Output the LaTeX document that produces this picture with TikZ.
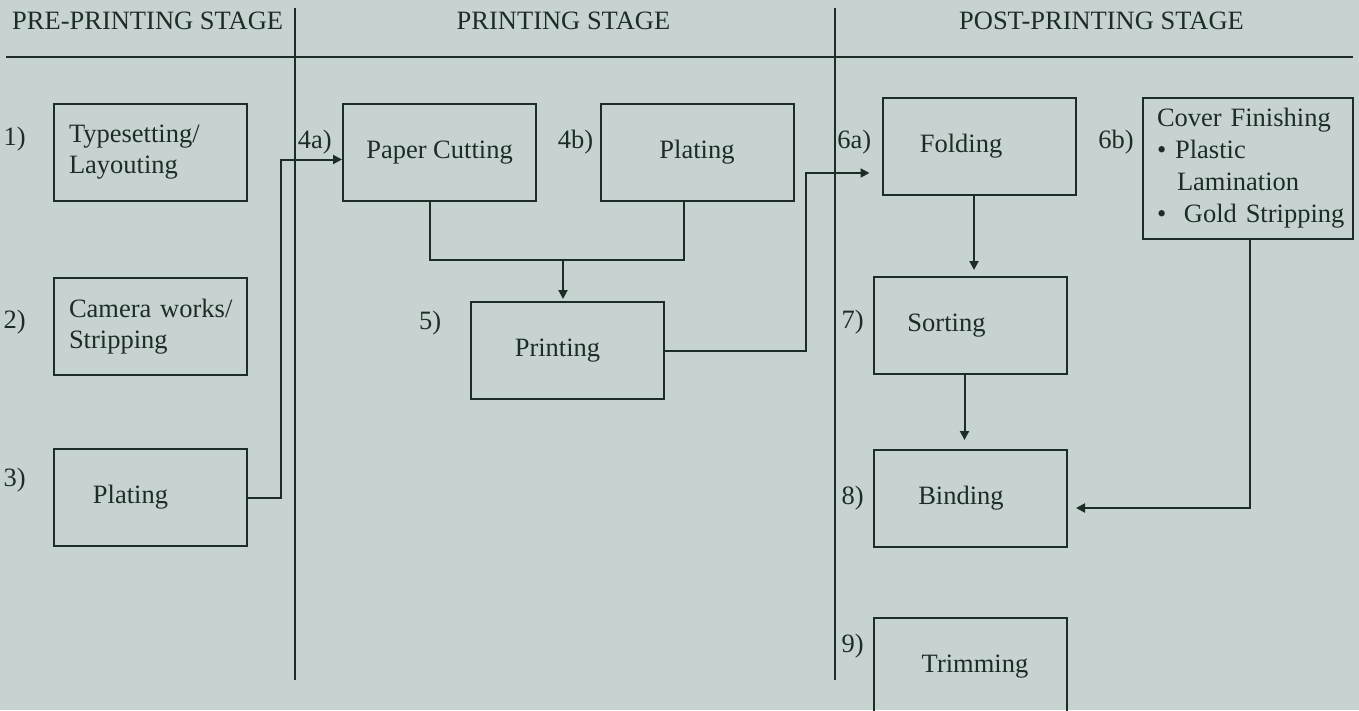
\documentclass[tikz,border=0pt]{standalone}
\usepackage{fontspec}
\setmainfont{Liberation Serif}
\usepackage{tikz}
\usetikzlibrary{positioning,arrows.meta}
\definecolor{paper}{RGB}{199,211,208}
\definecolor{ink}{RGB}{30,44,40}

\begin{document}
\begin{tikzpicture}[x=1pt, y=-1pt, >={Triangle[length=9pt,width=9pt]},
  every node/.style={text=ink, font=\fontsize{26.5}{31}\selectfont},
  stage/.style={draw=ink, line width=2pt, minimum width=193pt, minimum height=97pt, inner sep=0pt, align=center},
  leftstage/.style={stage, text width=163pt, inner xsep=15pt, align=left},
  num/.style={inner sep=0pt},
  head/.style={inner sep=0pt},
  rule/.style={draw=ink, line width=2pt},
  flow/.style={->, draw=ink, line width=2pt}]
  \clip (0,0) rectangle (1359,710);
  \fill[paper] (0,0) rectangle (1359,710);
  % stage headings and dividers
  \node (pre) [head, anchor=base west] at (12,29) {PRE-PRINTING STAGE};
  \node (prt) [head, anchor=base] at (563.5,29) {PRINTING STAGE};
  \node (post) [head, anchor=base] at (1101.5,29) {POST-PRINTING STAGE};
  \draw[rule] (6,57) -- (1353,57);
  \draw[rule] (295,8) -- (295,680);
  \draw[rule] (835,8) -- (835,680);
  % pre-printing
  \node (ts) [leftstage] at (150.5,152.5) {\mbox{Typesetting/}\\Layouting};
  \node (cam) [leftstage] at (150.5,326.5) {\mbox{Camera works/}\\Stripping};
  \node (plate3) [stage] at (150.5,497.5) {Plating\hspace*{40pt}};
  % printing
  \node (cut) [stage] at (439.5,152.5) {Paper Cutting};
  \node (plate4) [stage] at (697,152.5) {Plating};
  \node (print) [stage] at (567,350.5) {Printing\hspace*{19pt}};
  % post-printing
  \node (fold) [stage] at (979,146.5) {Folding\hspace*{36pt}};
  \node (cover) [leftstage, text width=182pt, inner xsep=14pt, minimum height=141pt, font=\fontsize{26.5}{32}\selectfont] at (1248,168.5) {\mbox{Cover Finishing}\\\mbox{• Plastic}\\\mbox{\hspace*{20pt}Lamination}\\\mbox{•~~Gold Stripping}};
  \node (sort) [stage] at (970.5,325.5) {Sorting\hspace*{48pt}};
  \node (bind) [stage] at (970.5,498.5) {Binding\hspace*{19pt}};
  \node (trim) [stage] at (970.5,666.5) {\hspace*{9pt}Trimming};
  % step numbers
  \node (l1) [num, left=27pt of ts, yshift=13pt] {1)};
  \node (l2) [num, left=27pt of cam, yshift=4pt] {2)};
  \node (l3) [num, left=27pt of plate3, yshift=17pt] {3)};
  \node (l4a) [num, left=10pt of cut, yshift=10.5pt] {4a)};
  \node (l4b) [num, left=6pt of plate4, yshift=10pt] {4b)};
  \node (l5) [num, left=28pt of print, yshift=27.5pt] {5)};
  \node (l6a) [num, left=10pt of fold, yshift=4.5pt] {6a)};
  \node (l6b) [num, left=8pt of cover, yshift=26.5pt] {6b)};
  \node (l7) [num, left=9pt of sort, yshift=3pt] {7)};
  \node (l8) [num, left=9pt of bind] {8)};
  \node (l9) [num, left=9pt of trim, yshift=20.5pt] {9)};
  % connectors
  \coordinate (merge) at (563,260);
  \draw[flow] (plate3.east) -| ([xshift=-61pt,yshift=-7pt]cut.west) -- ([yshift=-7pt]cut.west);
  \draw[rule] ([xshift=-9.5pt]cut.south) |- (merge) -| ([xshift=-13pt]plate4.south);
  \draw[flow, shorten >=2pt] (merge) -- (merge |- print.north);
  \draw[flow, shorten >=12pt] (print.east) -| ([xshift=-76pt,yshift=-26.5pt]fold.west) -- ([yshift=-26.5pt]fold.west);
  \draw[flow, shorten >=6pt] ([xshift=-5pt]fold.south) -- ([xshift=-5pt]fold.south |- sort.north);
  \draw[flow, shorten >=9pt] ([xshift=-6pt]sort.south) -- ([xshift=-6pt]sort.south |- bind.north);
  \draw[flow, shorten >=8pt] ([xshift=2pt]cover.south) |- ([yshift=-9.5pt]bind.east);
\end{tikzpicture}
\end{document}
